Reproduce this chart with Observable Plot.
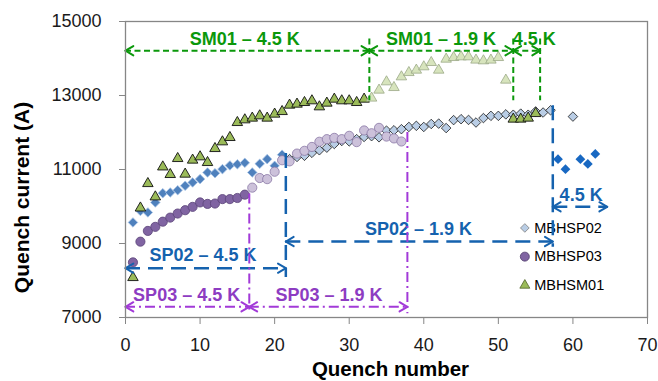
<!DOCTYPE html>
<html>
<head>
<meta charset="utf-8">
<script src="https://cdn.jsdelivr.net/npm/d3@7"></script>
<script src="https://cdn.jsdelivr.net/npm/@observablehq/plot@0.6"></script>
<style>
  body { margin: 0; background: #fff; }
  #chart { width: 658px; height: 381px; }
</style>
</head>
<body>
<div id="chart"></div>
<script>
// ---------- axis ticks ----------
const xTicks = [0, 10, 20, 30, 40, 50, 60, 70];
const yTicks = [7000, 9000, 11000, 13000, 15000];

// ---------- MBHSP02 ----------
const sp02WarmStart = 1;          // 4.5 K, quench 1..21
const sp02Warm = [9570, 9880, 9840, 10110, 10360, 10380, 10440, 10560, 10650, 10740, 10920,
  10900, 11010, 11110, 11140, 11180, 10920, 11155, 11280, 11100, 11400];
const sp02ColdStart = 22;         // 1.9 K, quench 22..57
const sp02Cold = [11280, 11340, 11370, 11450, 11520, 11590, 11690, 11770, 11760, 11820, 11880,
  11900, 11870, 12050, 12060, 12090, 12150, 12180, 12150, 12230, 12240, 12120, 12335, 12360,
  12340, 12270, 12390, 12450, 12450, 12490, 12480, 12510, 12480, 12570, 12540, 12600];
const sp02ColdExtraX = [60];
const sp02ColdExtra = [12430];
const sp02RewarmX = [58, 59, 61, 62, 63];   // back at 4.5 K
const sp02Rewarm = [11280, 11010, 11280, 11150, 11420];

// ---------- MBHSP03 ----------
const sp03WarmStart = 1;          // 4.5 K, quench 1..16
const sp03Warm = [8490, 9050, 9340, 9450, 9590, 9700, 9810, 9900, 9990, 10110, 10070, 10080,
  10200, 10200, 10230, 10320];
const sp03ColdStart = 17;         // 1.9 K, quench 17..37
const sp03Cold = [10510, 10770, 10740, 10940, 11250, 11220, 11430, 11505, 11610, 11750, 11820,
  11855, 11820, 11910, 11740, 12055, 11980, 12125, 11890, 11840, 11757];

// ---------- MBHSM01 ----------
const sm01WarmStart = 1;          // 4.5 K, quench 1..32
const sm01Warm = [8080, 9960, 10620, 10260, 11070, 10865, 11297, 10875, 11254, 11343, 11189,
  11567, 11748, 11865, 12270, 12343, 12389, 12451, 12389, 12497, 12567, 12740, 12767, 12811,
  12857, 12694, 12794, 12902, 12857, 12857, 12811, 12902];
const sm01ColdStart = 33;         // 1.9 K, quench 33..51
const sm01Cold = [12930, 13146, 13370, 13216, 13505, 13621, 13686, 13776, 13892, 13686, 13983,
  14027, 14046, 14046, 13957, 13938, 13957, 14027, 13416];
const sm01RewarmStart = 52;       // 4.5 K, quench 52..55
const sm01Rewarm = [12362, 12362, 12389, 12513];

// ---------- legend ----------
const legendLabels = ["MBHSP02", "MBHSP03", "MBHSM01"];

// ---------- test-phase annotations (data units) ----------
const sm01Phases = [
  {label: "SM01 – 4.5 K", from: 0, to: 32.7, at: 16.0, level: 14210, labelLevel: 14530},
  {label: "SM01 – 1.9 K", from: 32.7, to: 52, at: 42.3, level: 14210, labelLevel: 14530},
  {label: "4.5 K", from: 52, to: 55.6, at: 54.8, level: 14210, labelLevel: 14530}
];
const sm01Bounds = [
  {x: 32.7, top: 14530, bottom: 12860},
  {x: 52, top: 14530, bottom: 12860},
  {x: 55.6, top: 14530, bottom: 12860}
];
const sp02Phases = [
  {label: "SP02 – 4.5 K", from: 0, to: 21.5, at: 10.4, level: 8334, labelLevel: 8670},
  {label: "SP02 – 1.9 K", from: 21.5, to: 57.3, at: 39.3, level: 9053, labelLevel: 9390},
  {label: "4.5 K", from: 57.3, to: 64.6, at: 61.1, level: 9991, labelLevel: 10310}
];
const sp02Bounds = [
  {x: 21.5, top: 11430, bottom: 8080},
  {x: 57.3, top: 12720, bottom: 8900}
];
const sp03Phases = [
  {label: "SP03 – 4.5 K", from: 0, to: 16.6, at: 8.2, level: 7288, labelLevel: 7604},
  {label: "SP03 – 1.9 K", from: 16.6, to: 37.8, at: 27.3, level: 7288, labelLevel: 7604}
];
const sp03Bounds = [
  {x: 16.6, top: 10340, bottom: 7100},
  {x: 37.8, top: 12000, bottom: 7100}
];

// ---------- helpers ----------
const seq = (start, ys) => ys.map((y, i) => ({x: start + i, y}));
const pairs = (xs, ys) => xs.map((x, i) => ({x, y: ys[i]}));
// chevron arrow heads: two short arms from each tip
const ARM_X = 1.05, ARM_Y = 125;
const heads = (phases) => phases.flatMap(p => {
  const tips = [{x: p.from, d: -1}, {x: p.to, d: 1}];
  return tips.flatMap(t => [
    {x1: t.x, y1: p.level, x2: t.x - t.d * ARM_X, y2: p.level + ARM_Y},
    {x1: t.x, y1: p.level, x2: t.x - t.d * ARM_X, y2: p.level - ARM_Y}
  ]);
});

const GREEN = "#0b980b", BLUE = "#1562ae", PURPLE = "#a23ad8", PURPLE_TXT = "#8d3cc2";
const FONT = "'Liberation Sans', Arial, sans-serif";

function annotation(phases, bounds, color, textColor, dash, width) {
  return [
    Plot.ruleY(phases, {y: "level", x1: "from", x2: "to", stroke: color, strokeWidth: width, strokeDasharray: dash}),
    Plot.ruleX(bounds, {x: "x", y1: "top", y2: "bottom", stroke: color, strokeWidth: width, strokeDasharray: dash}),
    Plot.link(heads(phases), {x1: "x1", y1: "y1", x2: "x2", y2: "y2", stroke: color, strokeWidth: 2, strokeLinecap: "round"}),
    Plot.text(phases, {x: "at", y: "labelLevel", text: "label", fill: textColor, fontWeight: "bold", fontSize: 18})
  ];
}

const legendRows = legendLabels.map((name, i) => ({name, x: 53.55, tx: 54.8, y: 9420 - i * 775}));
const legendStyle = [
  {symbol: "diamond2", fill: "#b9cde5", stroke: "#7f7f7f", r: 3.9},
  {symbol: "circle", fill: "#8064a2", stroke: "#4f3b6b", r: 4.5},
  {symbol: "triangle", fill: "#9bbb59", stroke: "#4f6228", r: 3.7}
];

const chart = Plot.plot({
  width: 658,
  height: 381,
  marginLeft: 125,
  marginRight: 11,
  marginTop: 21,
  marginBottom: 64,
  style: {fontFamily: FONT, fontSize: "18px", background: "#fff", color: "#1a1a1a"},
  x: {domain: [0, 70]},
  y: {domain: [7000, 15000]},
  marks: [
    // MBHSP02
    Plot.dot(seq(sp02WarmStart, sp02Warm), {x: "x", y: "y", symbol: "diamond2", r: 4.3, fill: "#4f81bd", stroke: "#a9c4e6", strokeWidth: 0.8}),
    Plot.dot(seq(sp02ColdStart, sp02Cold).concat(pairs(sp02ColdExtraX, sp02ColdExtra)), {x: "x", y: "y", symbol: "diamond2", r: 4.3, fill: "#b9cde5", stroke: "#1a1a1a", strokeWidth: 0.8}),
    Plot.dot(pairs(sp02RewarmX, sp02Rewarm), {x: "x", y: "y", symbol: "diamond2", r: 4.4, fill: "#1868c2"}),
    // MBHSP03
    Plot.dot(seq(sp03WarmStart, sp03Warm), {x: "x", y: "y", r: 4.6, fill: "#8064a2", stroke: "#5a4478", strokeWidth: 0.8}),
    Plot.dot(seq(sp03ColdStart, sp03Cold), {x: "x", y: "y", r: 4.6, fill: "#ccc1da", stroke: "#8a78a6", strokeWidth: 0.8}),
    // MBHSM01
    Plot.dot(seq(sm01WarmStart, sm01Warm).concat(seq(sm01RewarmStart, sm01Rewarm)), {x: "x", y: "y", symbol: "triangle", r: 3.9, fill: "#9bbb59", stroke: "#111", strokeWidth: 0.9}),
    Plot.dot(seq(sm01ColdStart, sm01Cold), {x: "x", y: "y", symbol: "triangle", r: 3.9, fill: "#d7e4bd", stroke: "#9aa886", strokeWidth: 0.8}),
    // legend
    ...legendRows.map((row, i) => Plot.dot([row], {x: "x", y: "y", symbol: legendStyle[i].symbol, r: legendStyle[i].r, fill: legendStyle[i].fill, stroke: legendStyle[i].stroke, strokeWidth: 0.8})),
    Plot.text(legendRows, {x: "tx", y: "y", text: "name", textAnchor: "start", fontSize: 14.5, fill: "#000"}),
    // annotations
    ...annotation(sm01Phases, sm01Bounds, GREEN, GREEN, "6,3.5", 2),
    ...annotation(sp02Phases, sp02Bounds, BLUE, BLUE, "15,8", 2.5),
    ...annotation(sp03Phases, sp03Bounds, PURPLE, PURPLE_TXT, "10,4,2,4", 2),
    // frame & axes
    Plot.frame({stroke: "#868686", strokeWidth: 1.3}),
    Plot.axisX({ticks: xTicks, tickSize: 7, tickPadding: 14, stroke: "#868686", fill: "#1a1a1a", fontSize: 18, label: null, tickFormat: d => String(d)}),
    Plot.axisY({ticks: yTicks, tickSize: 6, tickPadding: 18, stroke: "#868686", fill: "#1a1a1a", fontSize: 18, label: null, tickFormat: d => String(d)}),
    Plot.text(["Quench number"], {text: d => d, frameAnchor: "bottom", textAnchor: "middle", lineAnchor: "middle", dx: 4, dy: 52, fontWeight: "bold", fontSize: 20.5, fill: "#000"}),
    Plot.text(["Quench current (A)"], {text: d => d, frameAnchor: "left", textAnchor: "middle", lineAnchor: "middle", dx: -103, dy: 28, rotate: -90, fontWeight: "bold", fontSize: 21, fill: "#000"})
  ]
});

document.getElementById("chart").append(chart);
</script>
</body>
</html>
